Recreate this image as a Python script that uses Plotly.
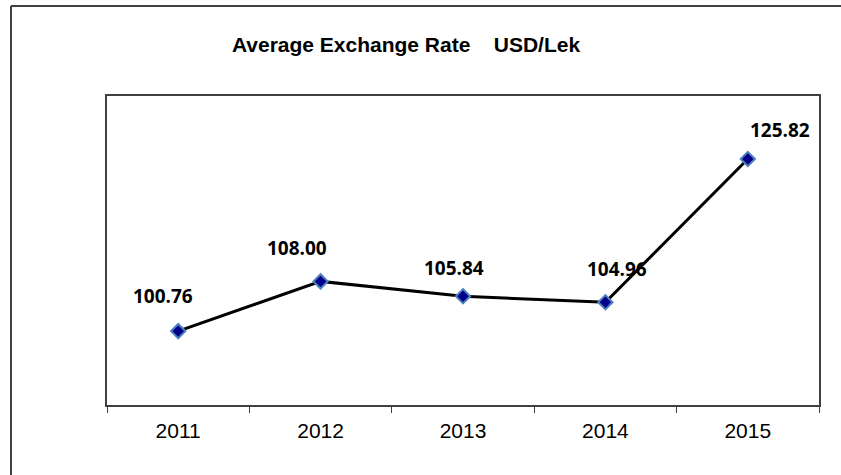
import plotly.graph_objects as go

years = ["2011", "2012", "2013", "2014", "2015"]
rates = [100.76, 108.00, 105.84, 104.96, 125.82]
label_text = ["100.76", "108.00", "105.84", "104.96", "125.82"]

# label pixel offsets (style only)
label_dx = [-15, -24, -9, 12, 32]
label_dy = [35, 33, 28, 33, 29]

W, H = 841, 475
ML, MR, MT, MB = 107, 22, 96, 70

fig = go.Figure()
fig.add_trace(go.Scatter(
    x=years, y=rates, mode="lines+markers",
    line=dict(color="#000000", width=3),
    marker=dict(symbol="diamond", size=11, color="#00008B",
                line=dict(color="#4F81BD", width=2)),
    hoverinfo="skip", showlegend=False,
))

for i, (yv, t, dx, dy) in enumerate(zip(rates, label_text, label_dx, label_dy)):
    fig.add_annotation(x=i, y=yv, text="<b>" + t + "</b>", showarrow=False,
                       xshift=dx, yshift=dy, xanchor="center", yanchor="middle",
                       font=dict(family="Open Sans", size=19, color="#000000"))

pw = W - ML - MR
ph = H - MT - MB
def px_x(p):
    return (p - ML) / pw
def px_y(p):
    return (H - MB - p) / ph

border_col = "#404040"
fig.add_shape(type="line", xref="paper", yref="paper",
              x0=px_x(11), x1=px_x(845), y0=px_y(6), y1=px_y(6),
              line=dict(color=border_col, width=2))
fig.add_shape(type="line", xref="paper", yref="paper",
              x0=px_x(11), x1=px_x(11), y0=px_y(6), y1=px_y(480),
              line=dict(color=border_col, width=2))

fig.update_layout(
    width=W, height=H,
    margin=dict(l=ML, r=MR, t=MT, b=MB),
    paper_bgcolor="white", plot_bgcolor="white",
    hovermode=False,
    title=dict(text="<b>Average Exchange Rate &nbsp;&nbsp; USD/Lek</b>",
               xref="container", yref="container",
               x=406 / W, xanchor="center", y=1 - 45 / H, yanchor="middle",
               font=dict(family="Liberation Sans", size=21, color="#000000")),
    xaxis=dict(type="category", range=[-0.5, len(years) - 0.5],
               tickson="boundaries", ticks="outside",
               ticklen=6, tickcolor="#404040", tickwidth=1,
               ticklabelstandoff=6,
               showline=True, linecolor="#404040", linewidth=1.5, mirror=True,
               showgrid=False, zeroline=False, automargin=False,
               tickfont=dict(family="Liberation Sans", size=21, color="#000000")),
    yaxis=dict(range=[90, 135], showline=True, linecolor="#404040",
               linewidth=1.5, mirror=True, showgrid=False, zeroline=False,
               showticklabels=False, ticks="", automargin=False),
)

fig.write_html("out.html", config={"displayModeBar": False},
               post_script="document.body.style.margin='0';document.body.style.padding='0';")
